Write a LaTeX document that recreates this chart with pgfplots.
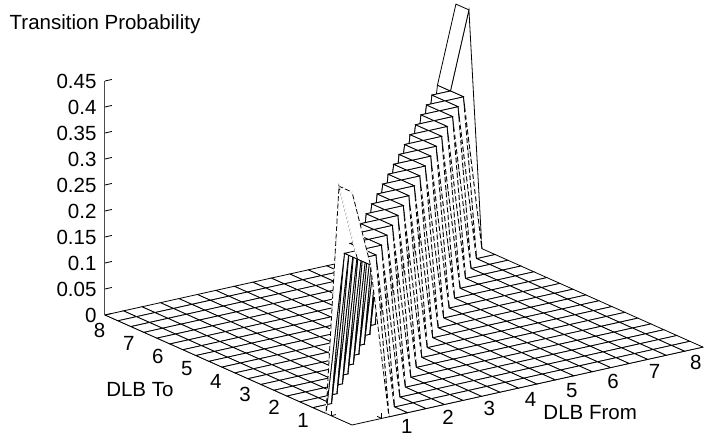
\documentclass[border=0pt]{standalone}
\usepackage{pgfplots}
\pgfplotsset{compat=1.18}
\usepackage{fontspec}
\setmainfont{Liberation Sans}
\begin{document}
\begin{tikzpicture}[x=1pt,y=1pt]
\path[use as bounding box] (0,0) rectangle (704,435);
\pgfplotsset{every tick/.style={black,line width=0.8pt},
 tick label style={font=\fontsize{20.5}{24}\selectfont},
 /pgf/number format/assume math mode=true}
\begin{axis}[
 at={(352pt,10pt)},anchor=origin,
 x={(18.47pt,4.1pt)},y={(-13pt,5.79pt)},z={(0pt,520pt)},
 xmin=0,xmax=19,ymin=0,ymax=19,zmin=0,zmax=0.45,
 axis x line*=bottom,axis y line*=left,axis z line=none,
 axis line style={line width=0.8pt},
 clip=false,
 xtick={1.609,3.845,6.08,8.316,10.551,12.787,15.022,17.257},
 xticklabels={1,2,3,4,5,6,7,8},
 ytick={1.609,3.845,6.08,8.316,10.551,12.787,15.022,17.257},
 yticklabels={1,2,3,4,5,6,7,8},
 ztick=\empty,
 tick align=inside,major tick length=5pt,
 xticklabel style={anchor=center,xshift=25pt,yshift=-8.5pt},
 yticklabel style={anchor=center,xshift=-28pt,yshift=-5pt},
 xlabel={DLB From},ylabel={DLB To},
 every axis x label/.style={at={(axis cs:12.787,0,0)},anchor=center,xshift=2pt,yshift=-40pt,font=\fontsize{20.5}{24}\selectfont},
 every axis y label/.style={at={(axis cs:0,8.316,0)},anchor=center,xshift=-104pt,yshift=-13pt,font=\fontsize{20.5}{24}\selectfont},
]
\addplot3[surf,shader=faceted,z buffer=sort,mesh/ordering=y varies,mesh/rows=20,mesh/cols=20,
 colormap={w}{color(0cm)=(white) color(1cm)=(white)},faceted color=black,line width=0.8pt]
coordinates {
(0,0,.448)(0,1,.448)(0,2,0)(0,3,0)(0,4,0)(0,5,0)(0,6,0)(0,7,0)(0,8,0)(0,9,0)(0,10,0)(0,11,0)(0,12,0)(0,13,0)(0,14,0)(0,15,0)(0,16,0)(0,17,0)(0,18,0)(0,19,0)
(1,0,.3)(1,1,.3)(1,2,.3)(1,3,0)(1,4,0)(1,5,0)(1,6,0)(1,7,0)(1,8,0)(1,9,0)(1,10,0)(1,11,0)(1,12,0)(1,13,0)(1,14,0)(1,15,0)(1,16,0)(1,17,0)(1,18,0)(1,19,0)
(2,0,0)(2,1,.3)(2,2,.3)(2,3,.3)(2,4,0)(2,5,0)(2,6,0)(2,7,0)(2,8,0)(2,9,0)(2,10,0)(2,11,0)(2,12,0)(2,13,0)(2,14,0)(2,15,0)(2,16,0)(2,17,0)(2,18,0)(2,19,0)
(3,0,0)(3,1,0)(3,2,.3)(3,3,.3)(3,4,.3)(3,5,0)(3,6,0)(3,7,0)(3,8,0)(3,9,0)(3,10,0)(3,11,0)(3,12,0)(3,13,0)(3,14,0)(3,15,0)(3,16,0)(3,17,0)(3,18,0)(3,19,0)
(4,0,0)(4,1,0)(4,2,0)(4,3,.3)(4,4,.3)(4,5,.3)(4,6,0)(4,7,0)(4,8,0)(4,9,0)(4,10,0)(4,11,0)(4,12,0)(4,13,0)(4,14,0)(4,15,0)(4,16,0)(4,17,0)(4,18,0)(4,19,0)
(5,0,0)(5,1,0)(5,2,0)(5,3,0)(5,4,.3)(5,5,.3)(5,6,.3)(5,7,0)(5,8,0)(5,9,0)(5,10,0)(5,11,0)(5,12,0)(5,13,0)(5,14,0)(5,15,0)(5,16,0)(5,17,0)(5,18,0)(5,19,0)
(6,0,0)(6,1,0)(6,2,0)(6,3,0)(6,4,0)(6,5,.3)(6,6,.3)(6,7,.3)(6,8,0)(6,9,0)(6,10,0)(6,11,0)(6,12,0)(6,13,0)(6,14,0)(6,15,0)(6,16,0)(6,17,0)(6,18,0)(6,19,0)
(7,0,0)(7,1,0)(7,2,0)(7,3,0)(7,4,0)(7,5,0)(7,6,.3)(7,7,.3)(7,8,.3)(7,9,0)(7,10,0)(7,11,0)(7,12,0)(7,13,0)(7,14,0)(7,15,0)(7,16,0)(7,17,0)(7,18,0)(7,19,0)
(8,0,0)(8,1,0)(8,2,0)(8,3,0)(8,4,0)(8,5,0)(8,6,0)(8,7,.3)(8,8,.3)(8,9,.3)(8,10,0)(8,11,0)(8,12,0)(8,13,0)(8,14,0)(8,15,0)(8,16,0)(8,17,0)(8,18,0)(8,19,0)
(9,0,0)(9,1,0)(9,2,0)(9,3,0)(9,4,0)(9,5,0)(9,6,0)(9,7,0)(9,8,.3)(9,9,.3)(9,10,.3)(9,11,0)(9,12,0)(9,13,0)(9,14,0)(9,15,0)(9,16,0)(9,17,0)(9,18,0)(9,19,0)
(10,0,0)(10,1,0)(10,2,0)(10,3,0)(10,4,0)(10,5,0)(10,6,0)(10,7,0)(10,8,0)(10,9,.3)(10,10,.3)(10,11,.3)(10,12,0)(10,13,0)(10,14,0)(10,15,0)(10,16,0)(10,17,0)(10,18,0)(10,19,0)
(11,0,0)(11,1,0)(11,2,0)(11,3,0)(11,4,0)(11,5,0)(11,6,0)(11,7,0)(11,8,0)(11,9,0)(11,10,.3)(11,11,.3)(11,12,.3)(11,13,0)(11,14,0)(11,15,0)(11,16,0)(11,17,0)(11,18,0)(11,19,0)
(12,0,0)(12,1,0)(12,2,0)(12,3,0)(12,4,0)(12,5,0)(12,6,0)(12,7,0)(12,8,0)(12,9,0)(12,10,0)(12,11,.3)(12,12,.3)(12,13,.3)(12,14,0)(12,15,0)(12,16,0)(12,17,0)(12,18,0)(12,19,0)
(13,0,0)(13,1,0)(13,2,0)(13,3,0)(13,4,0)(13,5,0)(13,6,0)(13,7,0)(13,8,0)(13,9,0)(13,10,0)(13,11,0)(13,12,.3)(13,13,.3)(13,14,.3)(13,15,0)(13,16,0)(13,17,0)(13,18,0)(13,19,0)
(14,0,0)(14,1,0)(14,2,0)(14,3,0)(14,4,0)(14,5,0)(14,6,0)(14,7,0)(14,8,0)(14,9,0)(14,10,0)(14,11,0)(14,12,0)(14,13,.3)(14,14,.3)(14,15,.3)(14,16,0)(14,17,0)(14,18,0)(14,19,0)
(15,0,0)(15,1,0)(15,2,0)(15,3,0)(15,4,0)(15,5,0)(15,6,0)(15,7,0)(15,8,0)(15,9,0)(15,10,0)(15,11,0)(15,12,0)(15,13,0)(15,14,.3)(15,15,.3)(15,16,.3)(15,17,0)(15,18,0)(15,19,0)
(16,0,0)(16,1,0)(16,2,0)(16,3,0)(16,4,0)(16,5,0)(16,6,0)(16,7,0)(16,8,0)(16,9,0)(16,10,0)(16,11,0)(16,12,0)(16,13,0)(16,14,0)(16,15,.3)(16,16,.3)(16,17,.3)(16,18,0)(16,19,0)
(17,0,0)(17,1,0)(17,2,0)(17,3,0)(17,4,0)(17,5,0)(17,6,0)(17,7,0)(17,8,0)(17,9,0)(17,10,0)(17,11,0)(17,12,0)(17,13,0)(17,14,0)(17,15,0)(17,16,.3)(17,17,.3)(17,18,.3)(17,19,0)
(18,0,0)(18,1,0)(18,2,0)(18,3,0)(18,4,0)(18,5,0)(18,6,0)(18,7,0)(18,8,0)(18,9,0)(18,10,0)(18,11,0)(18,12,0)(18,13,0)(18,14,0)(18,15,0)(18,16,0)(18,17,.3)(18,18,.3)(18,19,.3)
(19,0,0)(19,1,0)(19,2,0)(19,3,0)(19,4,0)(19,5,0)(19,6,0)(19,7,0)(19,8,0)(19,9,0)(19,10,0)(19,11,0)(19,12,0)(19,13,0)(19,14,0)(19,15,0)(19,16,0)(19,17,0)(19,18,.448)(19,19,.448)
};
% white gaps that turn the flank lines of the ridge into dashes
\addplot3[white,line width=1.3pt,dash pattern=on 2.5pt off 5pt,empty line=jump,forget plot] coordinates {
(2.1,1,.27)(2.95,1,.015)

(2,.9,.27)(2,.05,.015)

(3.1,2,.27)(3.95,2,.015)

(3,1.9,.27)(3,1.05,.015)

(4.1,3,.27)(4.95,3,.015)

(4,2.9,.27)(4,2.05,.015)

(5.1,4,.27)(5.95,4,.015)

(5,3.9,.27)(5,3.05,.015)

(6.1,5,.27)(6.95,5,.015)

(6,4.9,.27)(6,4.05,.015)

(7.1,6,.27)(7.95,6,.015)

(7,5.9,.27)(7,5.05,.015)

(8.1,7,.27)(8.95,7,.015)

(8,6.9,.27)(8,6.05,.015)

(9.1,8,.27)(9.95,8,.015)

(9,7.9,.27)(9,7.05,.015)

(10.1,9,.27)(10.95,9,.015)

(10,8.9,.27)(10,8.05,.015)

(11.1,10,.27)(11.95,10,.015)

(11,9.9,.27)(11,9.05,.015)

(12.1,11,.27)(12.95,11,.015)

(12,10.9,.27)(12,10.05,.015)

(13.1,12,.27)(13.95,12,.015)

(13,11.9,.27)(13,11.05,.015)

(14.1,13,.27)(14.95,13,.015)

(14,12.9,.27)(14,12.05,.015)

(15.1,14,.27)(15.95,14,.015)

(15,13.9,.27)(15,13.05,.015)

(16.1,15,.27)(16.95,15,.015)

(16,14.9,.27)(16,14.05,.015)

(17.1,16,.27)(17.95,16,.015)

(17,15.9,.27)(17,15.05,.015)

(18.1,17,.27)(18.95,17,.015)

(18,16.9,.27)(18,16.05,.015)

(0,1,.448)(0,2,0)

(0,0,.448)(0,1,.448)

(0,0,.448)(1,0,.3)(2,0,0)
};
\addplot3[white,line width=1.3pt,forget plot] coordinates {(0.06,1,.44)(0.94,1,.31)};
\end{axis}
\begin{axis}[
 at={(118pt,114.21pt)},anchor=origin,
 x={(18.47pt,4.1pt)},y={(-13pt,5.79pt)},z={(0pt,520pt)},
 xmin=0,xmax=1,ymin=0,ymax=1,zmin=0,zmax=0.45,
 axis x line=none,axis y line=none,axis z line*=left,
 axis line style={line width=1pt,black!70},
 clip=false,
 ztick={0,0.05,0.1,0.15,0.2,0.25,0.3,0.35,0.4,0.45},
 zticklabels={0,0.05,0.1,0.15,0.2,0.25,0.3,0.35,0.4,0.45},
 tick align=inside,major tick length=7pt,
 zticklabel style={anchor=east,xshift=-5pt},
 zlabel={Transition Probability},
 every axis z label/.style={at={(axis cs:0,1,0.45)},anchor=center,xshift=0pt,yshift=57pt,font=\fontsize{20.5}{24}\selectfont},
]
\end{axis}
\end{tikzpicture}
\end{document}
